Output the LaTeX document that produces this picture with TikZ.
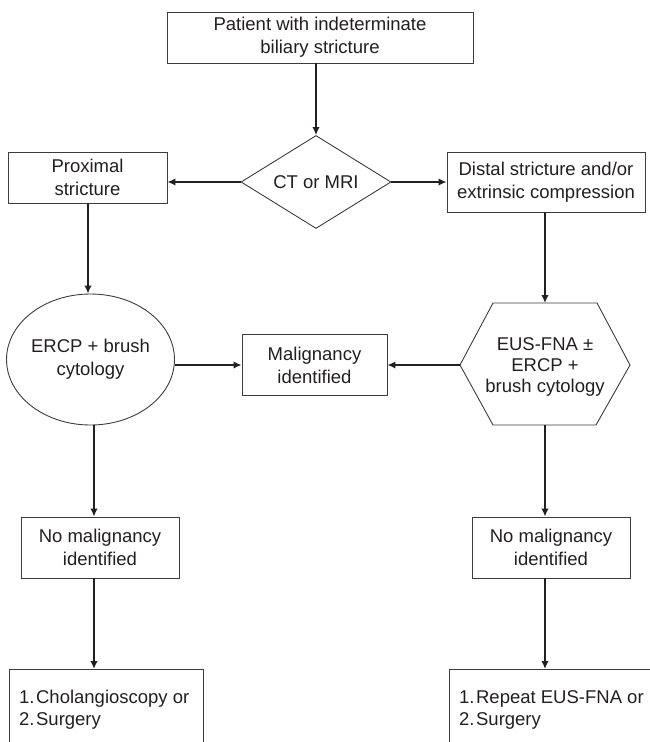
\documentclass[tikz,border=0pt]{standalone}
\usepackage{fontspec}
\setmainfont{Liberation Sans}
\usetikzlibrary{shapes.geometric,arrows.meta,calc}
\definecolor{ink}{HTML}{231F20}
\definecolor{edgec}{HTML}{3C3C3C}
\begin{document}
\begin{tikzpicture}[x=1pt,y=-1pt,
  txt/.style={text=ink, font=\fontsize{18.5}{23}\selectfont},
  box/.style={txt, draw=edgec, line width=0.9pt, inner sep=0pt, align=center},
  plain/.style={txt, inner sep=0pt, align=center},
  outline/.style={draw=edgec, line width=0.9pt},
  arr/.style={draw=ink, line width=1.8pt, -{Latex[length=8pt,width=7.5pt]}},
  ]
\useasboundingbox (0,0) rectangle (649,742);
% nodes
\node[box, minimum width=306, minimum height=51] (top) at (320,37.5) {Patient with indeterminate\\biliary stricture};
\node[box, diamond, shape aspect=1.6, minimum width=150, minimum height=93] (dia) at (316,182) {CT or MRI};
\node[box, minimum width=159, minimum height=51] (prox) at (87.5,177.5) {Proximal\\stricture};
\node[box, minimum width=198, minimum height=60] (dist) at (546,182) {Distal stricture and/or\\extrinsic compression};
\node[box, ellipse, minimum width=155, minimum height=131] (ercp) at (90.5,359.5) {ERCP + brush\\cytology};
\node[box, minimum width=145, minimum height=61] (mal) at (314.5,365) {Malignancy\\identified};
% hexagon
\coordinate (hW) at (460,365);
\coordinate (hNW) at (493,303);
\coordinate (hNE) at (597,303);
\coordinate (hE) at (630,365);
\coordinate (hSE) at (596,425);
\coordinate (hSW) at (493,425);
\draw[outline] (hW) -- (hNW) -- (hNE) -- (hE) -- (hSE) -- (hSW) -- cycle;
\node[plain, font=\fontsize{18.5}{21}\selectfont] (eus) at (545,367) {EUS-FNA ±\\ERCP +\\brush cytology};
\node[box, minimum width=158, minimum height=61] (nl) at (100,547.5) {No malignancy\\identified};
\node[box, minimum width=158, minimum height=61] (nr) at (551,547.5) {No malignancy\\identified};
% bottom open boxes
\node[inner sep=0pt, minimum width=194, minimum height=90, anchor=north west] (bl) at (9,669) {};
\node[inner sep=0pt, minimum width=210, minimum height=90, anchor=north west] (br) at (449,669) {};
\draw[outline] (bl.south west) -- (bl.north west) -- (bl.north east) -- (bl.south east);
\draw[outline] (br.south west) -- (br.north west) -- (br.north east);
\node[txt, font=\fontsize{18.5}{22}\selectfont, inner sep=0pt, align=left, anchor=base west] (blt) at (19,725) {1.\hspace{1.5pt}Cholangioscopy or\\2.\hspace{1.5pt}Surgery};
\node[txt, font=\fontsize{18.5}{22}\selectfont, inner sep=0pt, align=left, anchor=base west] (brt) at (459,725) {1.\hspace{1.5pt}Repeat EUS-FNA or\\2.\hspace{1.5pt}Surgery};
% connector columns
\coordinate (px) at (88,0);
\coordinate (lx) at (94,0);
\coordinate (rx) at (545,0);
% connectors
\draw[arr] (top.south -| dia.north) -- (dia.north);
\draw[arr] (dia.west) -- (dia.west -| prox.east);
\draw[arr] (dia.east) -- (dia.east -| dist.west);
\draw[arr] (px |- prox.south) -- (px |- ercp.north);
\draw[arr] (rx |- dist.south) -- (rx |- hNW);
\draw[arr] (mal.west -| ercp.east) -- (mal.west);
\draw[arr] (hW) -- (hW -| mal.east);
\draw[arr] (lx |- ercp.south) -- (lx |- nl.north);
\draw[arr] (rx |- hSW) -- (rx |- nr.north);
\draw[arr] (lx |- nl.south) -- (lx |- bl.north);
\draw[arr] (rx |- nr.south) -- (rx |- br.north);
\end{tikzpicture}
\end{document}
